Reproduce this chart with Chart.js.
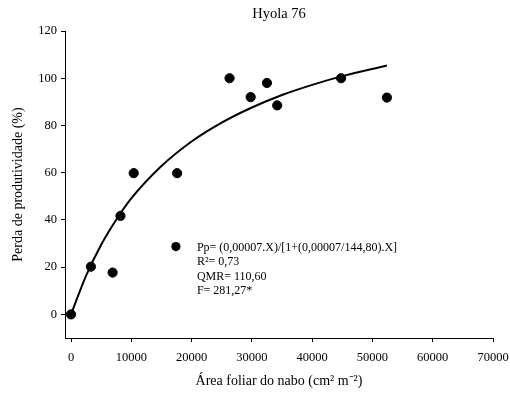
<!DOCTYPE html>
<html><head><meta charset="utf-8">
<script src="https://cdn.jsdelivr.net/npm/chart.js@4/dist/chart.umd.min.js"></script>
<style>html,body{margin:0;padding:0;background:#fff}#wrap{width:510px;height:398px}</style>
</head><body><div id="wrap"><canvas id="c" width="510" height="398"></canvas></div>
<script>
const titleText = "Hyola 76";
const xTitle = "Área foliar do nabo (cm² m⁻²)";
const yTitle = "Perda de produtividade (%)";
const obsX = [0, 3300, 6900, 8200, 10400, 17600, 26300, 29800, 32500, 34200, 44800, 52400];
const obsY = [0, 20.2, 17.7, 41.7, 59.8, 59.8, 100, 92, 98, 88.5, 100, 91.8];
const fitX = [0, 2500, 5000, 7500, 10000, 15000, 20000, 25000, 30000, 35000, 40000, 45000, 52400];
const fitY = [0, 16.4, 29.5, 40.1, 49.1, 62.8, 73.2, 81.2, 87.6, 92.9, 97.2, 100.9, 105.4];
const xTicks = [0, 10000, 20000, 30000, 40000, 50000, 60000, 70000];
const yTicks = [0, 20, 40, 60, 80, 100, 120];
const noteLines = ["Pp= (0,00007.X)/[1+(0,00007/144,80).X]", "R²= 0,73", "QMR= 110,60", "F= 281,27*"];
const noteAnchor = {x: 17400, y: 28.7};

const serif = "'Liberation Serif', 'Times New Roman', serif";
const notePlugin = {
  id: 'note',
  afterDatasetsDraw(chart) {
    const ctx = chart.ctx, xs = chart.scales.x, ys = chart.scales.y, ca = chart.chartArea;
    const px = xs.getPixelForValue(noteAnchor.x), py = ys.getPixelForValue(noteAnchor.y);
    ctx.save();
    ctx.fillStyle = '#000';
    ctx.beginPath(); ctx.arc(px, py, 4.6, 0, Math.PI * 2); ctx.fill();
    ctx.font = "12px " + serif;
    ctx.textBaseline = 'middle';
    ctx.textAlign = 'left';
    noteLines.forEach((t, i) => ctx.fillText(t, px + 21, py + 1.5 + i * 14.2));
    ctx.font = "14.5px " + serif;
    ctx.textAlign = 'center';
    ctx.fillText(titleText, (ca.left + ca.right) / 2, ca.top - 17);
    ctx.restore();
  }
};

new Chart(document.getElementById('c'), {
  type: 'scatter',
  data: {
    datasets: [
      { data: fitX.map((x, i) => ({x, y: fitY[i]})), showLine: true, borderColor: '#000', borderWidth: 2,
        pointRadius: 0, cubicInterpolationMode: 'monotone', fill: false, order: 2 },
      { data: obsX.map((x, i) => ({x, y: obsY[i]})), backgroundColor: '#000', borderColor: '#000',
        pointRadius: 4.6, pointHoverRadius: 4.6, showLine: false, order: 1 }
    ]
  },
  plugins: [notePlugin],
  options: {
    responsive: false, animation: false, devicePixelRatio: 1,
    layout: { autoPadding: false, padding: { left: 0, right: 17, top: 31, bottom: 0 } },
    plugins: {
      legend: { display: false }, tooltip: { enabled: false }, title: { display: false }
    },
    scales: {
      x: {
        type: 'linear', min: -1000, max: 70000,
        afterBuildTicks: s => { s.ticks = xTicks.map(v => ({value: v})); },
        afterFit: s => { s.height = 60; s.paddingLeft = 0; s.paddingRight = 0; },
        grid: { drawOnChartArea: false, drawTicks: true, tickLength: 4, color: '#000', lineWidth: 1 },
        border: { display: true, color: '#000', width: 1 },
        ticks: { color: '#000', font: { family: serif, size: 12.5 }, padding: 8, maxRotation: 0, autoSkip: false,
          callback: v => String(v) },
        title: { display: true, text: xTitle, color: '#000', font: { family: serif, size: 14 }, padding: { top: 4, bottom: 8 } }
      },
      y: {
        type: 'linear', min: -10, max: 120,
        afterBuildTicks: s => { s.ticks = yTicks.map(v => ({value: v})); },
        afterFit: s => { s.width = 65; s.paddingTop = 0; s.paddingBottom = 0; },
        grid: { drawOnChartArea: false, drawTicks: true, tickLength: 4, color: '#000', lineWidth: 1 },
        border: { display: true, color: '#000', width: 1 },
        ticks: { color: '#000', font: { family: serif, size: 12.5 }, padding: 4, autoSkip: false },
        title: { display: true, text: yTitle, color: '#000', font: { family: serif, size: 14 }, padding: { top: 9.6, bottom: 4 } }
      }
    }
  }
});
</script></body></html>
